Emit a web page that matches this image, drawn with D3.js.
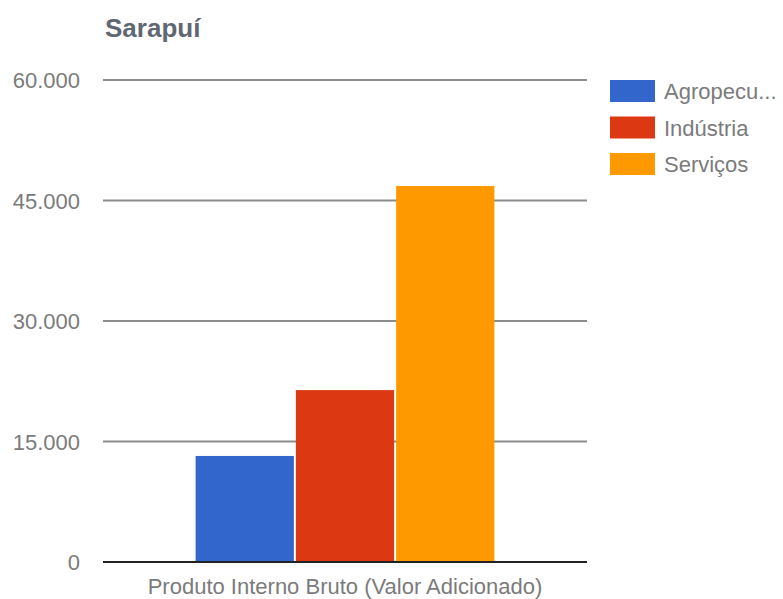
<!DOCTYPE html>
<html lang="pt">
<head>
  <meta charset="utf-8">
  <title>Sarapuí</title>
  <script src="https://d3js.org/d3.v7.min.js"></script>
  <style>
    body { margin: 0; background: #fff; }
    text { font-family: "Liberation Sans", Arial, sans-serif; }
  </style>
</head>
<body>
<script>
var categories = ['Produto Interno Bruto (Valor Adicionado)'];
var seriesNames = ['Agropecuária', 'Indústria', 'Serviços'];
var legendLabels = ['Agropecu...', 'Indústria', 'Serviços'];
var seriesValues = [13200, 21400, 46800];
var yTicks = [0, 15000, 30000, 45000, 60000];
var colors = ['#3366cc', '#dc3912', '#ff9900'];

var width = 783, height = 599;
var margin = { top: 80, right: 196, bottom: 37, left: 103 };

var svg = d3.select('body').append('svg')
  .attr('width', width)
  .attr('height', height);

var fmt = d3.formatLocale({ decimal: ',', thousands: '.', grouping: [3], currency: ['R$', ''] }).format(',.0f');

var x = d3.scaleBand().domain(categories).range([margin.left, width - margin.right]).paddingInner(0).paddingOuter(0.31);
var xs = d3.scaleBand().domain(seriesNames).range([0, x.bandwidth()]).paddingInner(0.02);
var y = d3.scaleLinear().domain([0, 60000]).range([height - margin.bottom, margin.top]);

// title
svg.append('text')
  .attr('x', 105).attr('y', 37)
  .attr('font-size', 26).attr('font-weight', 'bold')
  .attr('fill', '#5f6773')
  .text('Sarapuí');

// gridlines + y labels
svg.append('g').selectAll('line').data(yTicks.filter(function(d){ return d > 0; }))
  .enter().append('line')
  .attr('x1', margin.left).attr('x2', width - margin.right)
  .attr('y1', function(d){ return y(d); }).attr('y2', function(d){ return y(d); })
  .attr('stroke', '#8c8c8c').attr('stroke-width', 2);

svg.append('g').selectAll('text').data(yTicks)
  .enter().append('text')
  .attr('x', 80).attr('y', function(d){ return y(d) + 8; })
  .attr('text-anchor', 'end').attr('font-size', 22).attr('fill', '#7b7b7b')
  .text(function(d){ return fmt(d); });

// bars
svg.append('g').selectAll('rect').data(seriesValues)
  .enter().append('rect')
  .attr('x', function(d, i){ return x(categories[0]) + xs(seriesNames[i]); })
  .attr('width', xs.bandwidth())
  .attr('y', function(d){ return y(d); })
  .attr('height', function(d){ return y(0) - y(d); })
  .attr('fill', function(d, i){ return colors[i]; });

// baseline
svg.append('line')
  .attr('x1', margin.left).attr('x2', width - margin.right)
  .attr('y1', y(0)).attr('y2', y(0))
  .attr('stroke', '#222').attr('stroke-width', 2);

// x label
svg.append('text')
  .attr('x', x(categories[0]) + x.bandwidth() / 2).attr('y', 594)
  .attr('text-anchor', 'middle').attr('font-size', 22).attr('fill', '#7b7b7b')
  .text(categories[0]);

// legend
var legend = svg.append('g').selectAll('g').data(legendLabels)
  .enter().append('g')
  .attr('transform', function(d, i){ return 'translate(610,' + (80 + i * 36.5) + ')'; });
legend.append('rect')
  .attr('width', 45).attr('height', 22)
  .attr('fill', function(d, i){ return colors[i]; });
legend.append('text')
  .attr('x', 54).attr('y', 19)
  .attr('font-size', 22).attr('fill', '#7b7b7b')
  .text(function(d){ return d; });
</script>
</body>
</html>
